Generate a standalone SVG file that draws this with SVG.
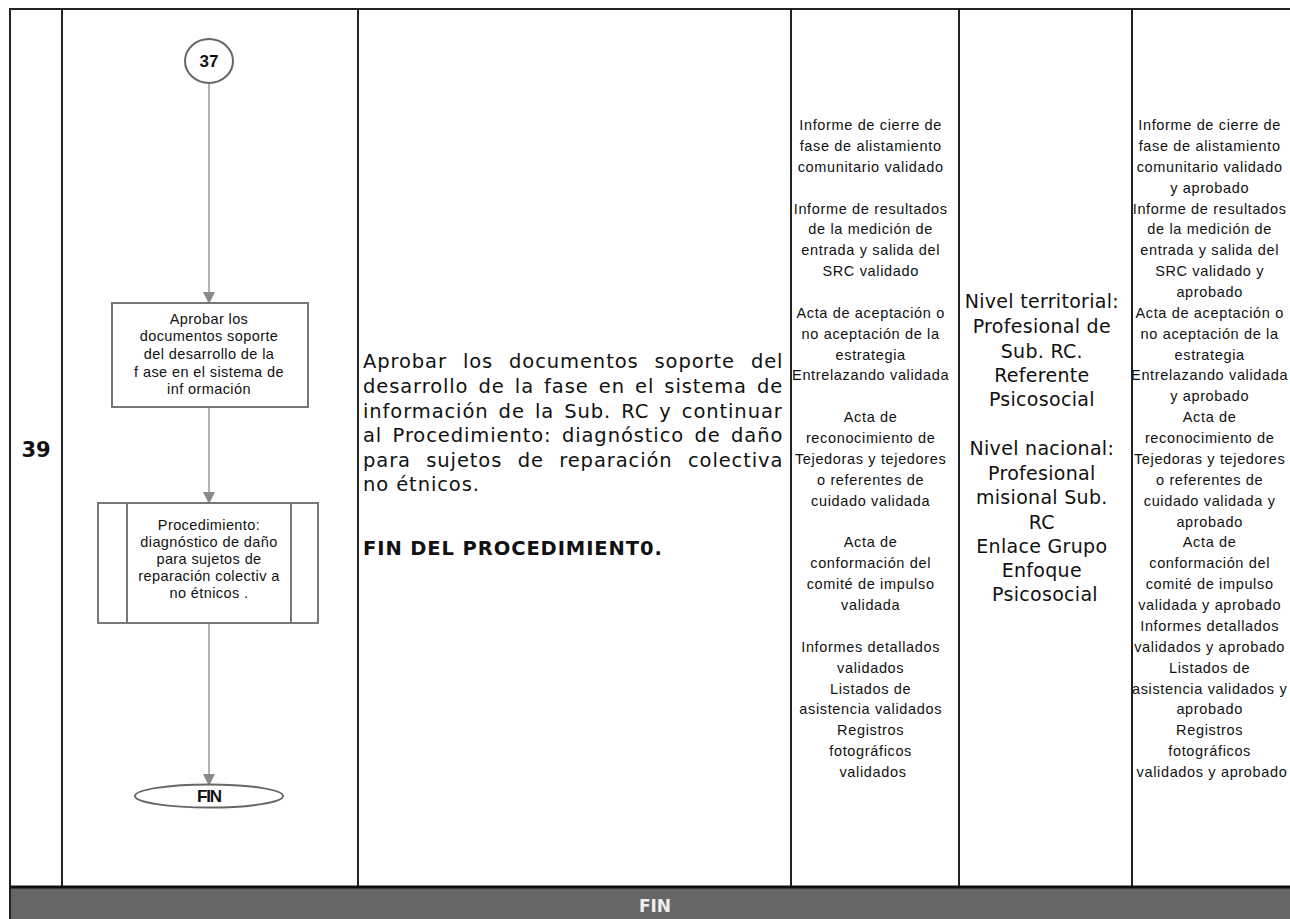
<svg xmlns="http://www.w3.org/2000/svg" width="1290" height="919" viewBox="0 0 1290 919">
<defs>
<style>
.grid{stroke:#222;stroke-width:2;fill:none}
.conn{stroke:#9a9a9a;stroke-width:1.5;fill:none}
.shape{fill:#fff;stroke:#777;stroke-width:2}
.boxt{font-family:"Liberation Sans",Arial,sans-serif;font-size:14.5px;fill:#111;text-anchor:middle;letter-spacing:0.4px}
.doc{font-family:"Liberation Sans",Arial,sans-serif;font-size:14.5px;fill:#111;text-anchor:middle;letter-spacing:0.65px}
.main{font-family:"DejaVu Sans",Verdana,sans-serif;font-size:19.5px;fill:#111;letter-spacing:0.9px}
.resp{font-family:"DejaVu Sans",Verdana,sans-serif;font-size:19px;fill:#111;text-anchor:middle;letter-spacing:0.3px}
</style>
<marker id="arr" markerWidth="12" markerHeight="12" refX="10" refY="6" orient="auto" markerUnits="userSpaceOnUse">
<path d="M0,0 L12,6 L0,12 z" fill="#8a8a8a"/>
</marker>
</defs>
<rect x="0" y="0" width="1290" height="919" fill="#fff"/>
<g id="table">
<line class="grid" x1="10" y1="9" x2="1290" y2="9"/>
<line class="grid" x1="10" y1="8" x2="10" y2="919"/>
<line class="grid" x1="62" y1="8" x2="62" y2="887"/>
<line class="grid" x1="358" y1="8" x2="358" y2="887"/>
<line class="grid" x1="791" y1="8" x2="791" y2="887"/>
<line class="grid" x1="959" y1="8" x2="959" y2="887"/>
<line class="grid" x1="1132" y1="8" x2="1132" y2="887"/>
<rect x="11" y="888" width="1279" height="31" fill="#666"/>
<line x1="10" y1="887" x2="1290" y2="887" stroke="#111" stroke-width="3"/>
<text x="655" y="912" font-family="'DejaVu Sans',Verdana,sans-serif" font-weight="bold" font-size="17" fill="#eee" text-anchor="middle">FIN</text>
<text x="36" y="457" font-family="'DejaVu Sans',Verdana,sans-serif" font-weight="bold" font-size="21" fill="#111" text-anchor="middle">39</text>
</g>
<g id="connectors">
<line class="conn" x1="209" y1="84" x2="209" y2="302" marker-end="url(#arr)"/>
<line class="conn" x1="209" y1="408" x2="209" y2="502" marker-end="url(#arr)"/>
<line class="conn" x1="209" y1="624" x2="209" y2="784" marker-end="url(#arr)"/>
</g>
<g id="node-37">
<ellipse class="shape" cx="209" cy="61" rx="24" ry="22" style="stroke:#666"/>
<text x="209" y="67" font-family="'Liberation Sans',Arial,sans-serif" font-weight="bold" font-size="17" fill="#111" text-anchor="middle">37</text>
</g>
<g id="node-aprobar">
<rect class="shape" x="112" y="303" width="196" height="104"/>
<text class="boxt" x="209" y="324">Aprobar  los</text>
<text class="boxt" x="209" y="341">documentos soporte</text>
<text class="boxt" x="209" y="359">del desarrollo de la</text>
<text class="boxt" x="209" y="377">f ase en el sistema de</text>
<text class="boxt" x="209" y="394">inf ormación</text>
</g>
<g id="node-procedimiento">
<rect class="shape" x="98" y="503" width="220" height="120"/>
<line x1="127" y1="503" x2="127" y2="623" stroke="#777" stroke-width="2"/>
<line x1="291" y1="503" x2="291" y2="623" stroke="#777" stroke-width="2"/>
<text class="boxt" x="209" y="530">Procedimiento:</text>
<text class="boxt" x="209" y="547">diagnóstico de daño</text>
<text class="boxt" x="209" y="564">para sujetos de</text>
<text class="boxt" x="209" y="581">reparación colectiv a</text>
<text class="boxt" x="209" y="598">no étnicos .</text>
</g>
<g id="node-fin">
<ellipse class="shape" cx="209" cy="796" rx="74" ry="11.5" style="stroke:#666"/>
<text x="209" y="802" font-family="'Liberation Sans',Arial,sans-serif" font-weight="bold" font-size="17" fill="#111" text-anchor="middle" letter-spacing="-1.2">FIN</text>
</g>
<g id="descripcion">
<text class="main" x="363" y="368" word-spacing="8.9">Aprobar los documentos soporte del</text>
<text class="main" x="363" y="393" word-spacing="3">desarrollo de la fase en el sistema de</text>
<text class="main" x="363" y="418" word-spacing="3">información de la Sub. RC y continuar</text>
<text class="main" x="363" y="442" word-spacing="3.3">al Procedimiento: diagnóstico de daño</text>
<text class="main" x="363" y="467" word-spacing="8.3">para sujetos de reparación colectiva</text>
<text class="main" x="363" y="491">no étnicos.</text>
<text class="main" x="363" y="555" font-weight="bold" letter-spacing="0.3">FIN DEL PROCEDIMIENT0.</text>
</g>
<g id="registros">
<text class="doc">
<tspan x="873" y="130">Informe de cierre de</tspan>
<tspan x="873" y="150.9">fase de alistamiento</tspan>
<tspan x="873" y="171.7">comunitario validado</tspan>
<tspan x="873" y="213.5">Informe de resultados</tspan>
<tspan x="873" y="234.4">de la medición de</tspan>
<tspan x="873" y="255.2">entrada y salida del</tspan>
<tspan x="873" y="276.1">SRC validado</tspan>
<tspan x="873" y="317.8">Acta de aceptación o</tspan>
<tspan x="873" y="338.7">no aceptación de la</tspan>
<tspan x="873" y="359.6">estrategia</tspan>
<tspan x="873" y="380.4">Entrelazando validada</tspan>
<tspan x="873" y="422.2">Acta de</tspan>
<tspan x="873" y="443.1">reconocimiento de</tspan>
<tspan x="873" y="463.9">Tejedoras y tejedores</tspan>
<tspan x="873" y="484.8">o referentes de</tspan>
<tspan x="873" y="505.7">cuidado validada</tspan>
<tspan x="873" y="547.4">Acta de</tspan>
<tspan x="873" y="568.3">conformación del</tspan>
<tspan x="873" y="589.1">comité de impulso</tspan>
<tspan x="873" y="610">validada</tspan>
<tspan x="873" y="651.8">Informes detallados</tspan>
<tspan x="873" y="672.6">validados</tspan>
<tspan x="873" y="693.5">Listados de</tspan>
<tspan x="873" y="714.4">asistencia validados</tspan>
<tspan x="873" y="735.2">Registros</tspan>
<tspan x="873" y="756.1">fotográficos</tspan>
<tspan x="873" y="777">validados</tspan>
</text>
</g>
<g id="responsables">
<text class="resp">
<tspan x="1045" y="308">Nivel territorial:</tspan>
<tspan x="1045" y="333">Profesional de</tspan>
<tspan x="1045" y="358">Sub. RC.</tspan>
<tspan x="1045" y="382">Referente</tspan>
<tspan x="1045" y="406">Psicosocial</tspan>
<tspan x="1045" y="455">Nivel nacional:</tspan>
<tspan x="1045" y="480">Profesional</tspan>
<tspan x="1045" y="504">misional Sub.</tspan>
<tspan x="1045" y="529">RC</tspan>
<tspan x="1045" y="553">Enlace Grupo</tspan>
<tspan x="1045" y="577">Enfoque</tspan>
<tspan x="1045" y="601">Psicosocial</tspan>
</text>
</g>
<g id="aprobados">
<text class="doc">
<tspan x="1212" y="130">Informe de cierre de</tspan>
<tspan x="1212" y="150.9">fase de alistamiento</tspan>
<tspan x="1212" y="171.7">comunitario validado</tspan>
<tspan x="1212" y="192.6">y aprobado</tspan>
<tspan x="1212" y="213.5">Informe de resultados</tspan>
<tspan x="1212" y="234.4">de la medición de</tspan>
<tspan x="1212" y="255.2">entrada y salida del</tspan>
<tspan x="1212" y="276.1">SRC validado y</tspan>
<tspan x="1212" y="297">aprobado</tspan>
<tspan x="1212" y="317.8">Acta de aceptación o</tspan>
<tspan x="1212" y="338.7">no aceptación de la</tspan>
<tspan x="1212" y="359.6">estrategia</tspan>
<tspan x="1212" y="380.4">Entrelazando validada</tspan>
<tspan x="1212" y="401.3">y aprobado</tspan>
<tspan x="1212" y="422.2">Acta de</tspan>
<tspan x="1212" y="443.1">reconocimiento de</tspan>
<tspan x="1212" y="463.9">Tejedoras y tejedores</tspan>
<tspan x="1212" y="484.8">o referentes de</tspan>
<tspan x="1212" y="505.7">cuidado validada y</tspan>
<tspan x="1212" y="526.5">aprobado</tspan>
<tspan x="1212" y="547.4">Acta de</tspan>
<tspan x="1212" y="568.3">conformación del</tspan>
<tspan x="1212" y="589.1">comité de impulso</tspan>
<tspan x="1212" y="610">validada y aprobado</tspan>
<tspan x="1212" y="630.9">Informes detallados</tspan>
<tspan x="1212" y="651.8">validados y aprobado</tspan>
<tspan x="1212" y="672.6">Listados de</tspan>
<tspan x="1212" y="693.5">asistencia validados y</tspan>
<tspan x="1212" y="714.4">aprobado</tspan>
<tspan x="1212" y="735.2">Registros</tspan>
<tspan x="1212" y="756.1">fotográficos</tspan>
<tspan x="1212" y="777">validados y aprobado</tspan>
</text>
</g>
</svg>
